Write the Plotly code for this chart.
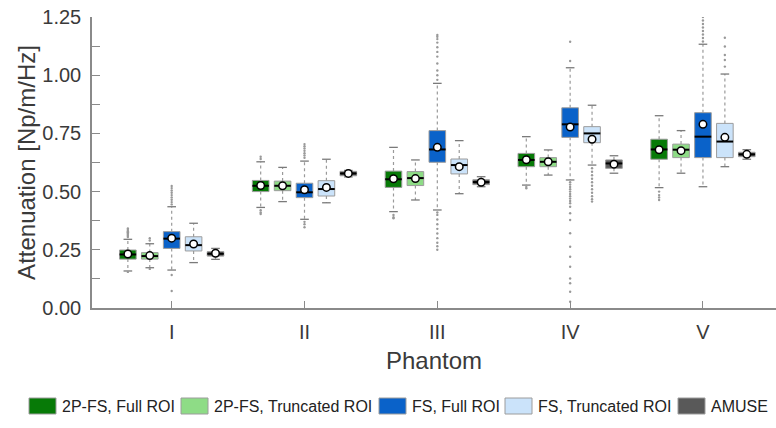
import plotly.graph_objects as go

# ---- data -------------------------------------------------------------
categories = ["I", "II", "III", "IV", "V"]
series = ["2P-FS, Full ROI", "2P-FS, Truncated ROI", "FS, Full ROI",
          "FS, Truncated ROI", "AMUSE"]
colors = ["#077a07", "#8edc86", "#0a62c9", "#cbe3fa", "#595959"]

# box statistics, one row per series, one column per phantom
q1 = [
    [0.210, 0.500, 0.518, 0.607, 0.639],
    [0.210, 0.504, 0.526, 0.607, 0.646],
    [0.256, 0.474, 0.626, 0.733, 0.646],
    [0.245, 0.481, 0.576, 0.710, 0.646],
    [0.223, 0.568, 0.530, 0.600, 0.650],
]
median = [
    [0.230, 0.525, 0.553, 0.636, 0.681],
    [0.223, 0.525, 0.558, 0.628, 0.680],
    [0.298, 0.497, 0.681, 0.789, 0.736],
    [0.270, 0.511, 0.614, 0.750, 0.715],
    [0.233, 0.578, 0.541, 0.621, 0.660],
]
q3 = [
    [0.249, 0.548, 0.588, 0.664, 0.725],
    [0.238, 0.545, 0.586, 0.646, 0.704],
    [0.328, 0.536, 0.762, 0.860, 0.839],
    [0.306, 0.547, 0.640, 0.779, 0.793],
    [0.242, 0.587, 0.551, 0.636, 0.669],
]
mean = [
    [0.232, 0.526, 0.555, 0.637, 0.680],
    [0.225, 0.525, 0.556, 0.628, 0.676],
    [0.300, 0.508, 0.690, 0.777, 0.789],
    [0.275, 0.518, 0.607, 0.725, 0.733],
    [0.235, 0.578, 0.540, 0.618, 0.660],
]
lower_fence = [
    [0.159, 0.432, 0.414, 0.528, 0.517],
    [0.173, 0.457, 0.464, 0.571, 0.579],
    [0.163, 0.381, 0.421, 0.550, 0.521],
    [0.195, 0.452, 0.491, 0.614, 0.607],
    [0.209, 0.563, 0.521, 0.579, 0.639],
]
upper_fence = [
    [0.295, 0.628, 0.690, 0.736, 0.826],
    [0.276, 0.604, 0.636, 0.679, 0.762],
    [0.435, 0.631, 0.965, 1.032, 1.133],
    [0.364, 0.639, 0.719, 0.871, 1.005],
    [0.256, 0.591, 0.564, 0.654, 0.680],
]
outliers = [
    [
        [0.155, 0.305, 0.31, 0.315, 0.32, 0.325, 0.33, 0.335, 0.342],
        [0.64, 0.65, 0.42, 0.41, 0.404],
        [0.40, 0.39, 0.385],
        [0.52, 0.514],
        [0.50, 0.485, 0.475, 0.464],
    ],
    [
        [0.168, 0.29, 0.30],
        [],
        [],
        [],
        [],
    ],
    [
        [0.142, 0.073, 0.445, 0.455, 0.465, 0.475, 0.485, 0.495, 0.505, 0.515, 0.524],
        [0.645, 0.655, 0.665, 0.675, 0.685, 0.695, 0.704, 0.37, 0.36, 0.347],
        [0.98, 1.0, 1.02, 1.05, 1.08, 1.10, 1.12, 1.14, 1.155, 1.165, 1.173,
         0.41, 0.40, 0.38, 0.36, 0.34, 0.32, 0.30, 0.28, 0.265, 0.25],
        [1.061, 1.144, 0.54, 0.53, 0.52, 0.51, 0.50, 0.49, 0.48, 0.47, 0.46,
         0.45, 0.435, 0.407, 0.378, 0.321, 0.263, 0.22, 0.177, 0.127, 0.106,
         0.07, 0.027],
        [1.145, 1.16, 1.175, 1.19, 1.205, 1.22, 1.235, 1.25],
    ],
    [
        [],
        [],
        [],
        [0.60, 0.585, 0.57, 0.555, 0.54, 0.525, 0.51, 0.495, 0.48, 0.467, 0.457],
        [1.037, 1.065, 1.087, 1.123, 1.161],
    ],
    [[], [], [], [], []],
]

# ---- geometry of the grouped boxes ---------------------------------------
GROUP_STEP = 0.165   # horizontal spacing between boxes inside a group
BOX_W = 0.125        # box width (category units)
CAP_W = 0.065        # whisker cap width
WHISKER_COLOR = "#9a9a9a"
TEXT_COLOR = "#3a3a3a"
AXIS_COLOR = "#8a8a8a"

fig = go.Figure()

for s, name in enumerate(series):
    xs = [c + (s - 2) * GROUP_STEP for c in range(len(categories))]

    # dotted whiskers (box edge -> fence)
    wx, wy = [], []
    for x, a, b, lo, hi in zip(xs, q1[s], q3[s], lower_fence[s], upper_fence[s]):
        wx += [x, x, None, x, x, None]
        wy += [b, hi, None, a, lo, None]
    fig.add_trace(go.Scatter(x=wx, y=wy, mode="lines", showlegend=False,
                             line=dict(color=WHISKER_COLOR, width=1.2, dash="dot"),
                             hoverinfo="skip"))

    # whisker caps
    cx, cy = [], []
    for x, lo, hi in zip(xs, lower_fence[s], upper_fence[s]):
        cx += [x - CAP_W / 2, x + CAP_W / 2, None, x - CAP_W / 2, x + CAP_W / 2, None]
        cy += [hi, hi, None, lo, lo, None]
    fig.add_trace(go.Scatter(x=cx, y=cy, mode="lines", showlegend=False,
                             line=dict(color="#7a7a7a", width=1.3),
                             hoverinfo="skip"))

    # outliers
    ox, oy = [], []
    for x, vals in zip(xs, outliers[s]):
        ox += [x] * len(vals)
        oy += vals
    fig.add_trace(go.Scatter(x=ox, y=oy, mode="markers", showlegend=False,
                             marker=dict(color="#999999", size=2.4),
                             hoverinfo="skip"))

    # interquartile box
    fig.add_trace(go.Bar(
        x=xs, base=q1[s], y=[b - a for a, b in zip(q1[s], q3[s])],
        width=BOX_W, name=name, showlegend=False,
        marker=dict(color=colors[s], line=dict(color="#9c9c9c", width=1)),
    ))

    # median line
    mx, my = [], []
    for x, m in zip(xs, median[s]):
        mx += [x - BOX_W / 2, x + BOX_W / 2, None]
        my += [m, m, None]
    fig.add_trace(go.Scatter(x=mx, y=my, mode="lines", showlegend=False,
                             line=dict(color="black", width=2),
                             hoverinfo="skip"))

    # mean marker
    fig.add_trace(go.Scatter(x=xs, y=mean[s], mode="markers", showlegend=False,
                             marker=dict(color="white", size=7.5,
                                         line=dict(color="black", width=1.5))))

# ---- legend drawn below the plot ---------------------------------------
W, H = 776, 428
ML, MR, MT, MB = 92, 0, 17, 120
pw, ph = W - ML - MR, H - MT - MB


def px_x(p):
    return (p - ML) / pw


def px_y(p):
    return (H - MB - p) / ph


legend_swatch_left = [29, 181, 379, 505, 678]
for s, name in enumerate(series):
    x0 = legend_swatch_left[s]
    fig.add_shape(type="rect", xref="paper", yref="paper",
                  x0=px_x(x0), x1=px_x(x0 + 27), y0=px_y(398), y1=px_y(414),
                  fillcolor=colors[s], line=dict(color="#9c9c9c", width=1))
    fig.add_annotation(xref="paper", yref="paper", x=px_x(x0 + 31), y=px_y(406),
                       text=name, showarrow=False, xanchor="left", yanchor="middle",
                       font=dict(size=16, color="#222222"))

fig.update_layout(
    width=W, height=H,
    margin=dict(l=ML, r=MR, t=MT, b=MB),
    paper_bgcolor="white", plot_bgcolor="white",
    barmode="overlay",
    font=dict(family="Liberation Sans, Arial, sans-serif", color=TEXT_COLOR),
    xaxis=dict(
        range=[-0.6, 4.55], tickvals=list(range(len(categories))),
        ticktext=categories, ticks="inside", ticklen=7, tickcolor=AXIS_COLOR,
        showline=True, linecolor=AXIS_COLOR, linewidth=1.5,
        showgrid=False, zeroline=False, tickfont=dict(size=20),
        ticklabelstandoff=5,
        title=dict(text="Phantom", font=dict(size=24), standoff=10),
    ),
    yaxis=dict(
        range=[0, 1.25], tickvals=[0, 0.25, 0.5, 0.75, 1.0, 1.25],
        tickformat=".2f", ticks="inside", ticklen=8, tickcolor=AXIS_COLOR,
        minor=dict(ticks="inside", ticklen=8, dtick=0.125, tickcolor=AXIS_COLOR),
        showline=True, linecolor=AXIS_COLOR, linewidth=1.5,
        showgrid=False, zeroline=False, tickfont=dict(size=20),
        ticklabelstandoff=5,
        title=dict(text="Attenuation [Np/m/Hz]", font=dict(size=24), standoff=0),
    ),
)

fig.write_html("out.html")
